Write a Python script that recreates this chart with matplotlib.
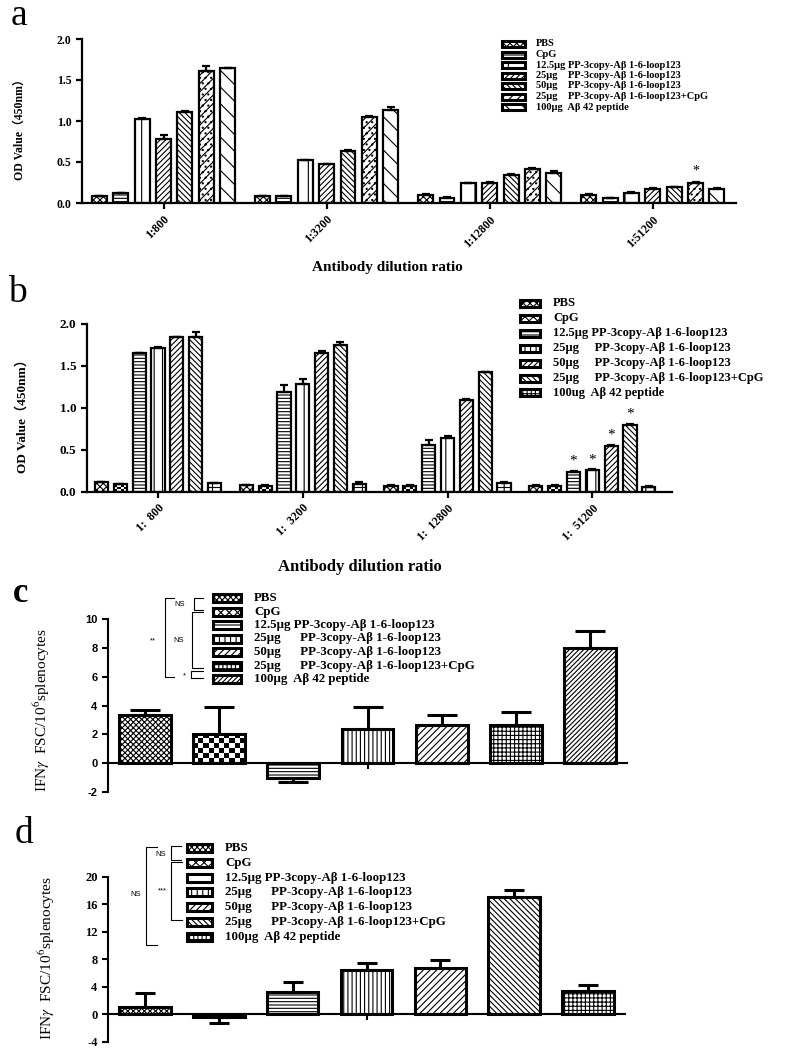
import numpy as np
import matplotlib
matplotlib.use("Agg")
import matplotlib.pyplot as plt
from matplotlib.patches import Rectangle
from matplotlib.lines import Line2D

plt.rcParams['mathtext.fontset'] = 'stix'
plt.rcParams['hatch.linewidth'] = 0.8

SERIF = ['Liberation Serif', 'DejaVu Serif']
SERIF_CJK = ['Liberation Serif', 'Noto Sans CJK SC', 'DejaVu Sans']
SANS = ['Liberation Sans', 'DejaVu Sans']

# ---------------- data ----------------
dilution_a = ["1:800", "1:3200", "1:12800", "1:51200"]
dilution_b = ["1:  800", "1:  3200", "1:  12800", "1:  51200"]

labels_a = ["PBS", "CpG", "12.5μg PP-3copy-Aβ 1-6-loop123",
            "25μg    PP-3copy-Aβ 1-6-loop123", "50μg    PP-3copy-Aβ 1-6-loop123",
            "25μg    PP-3copy-Aβ 1-6-loop123+CpG", "100μg  Aβ 42 peptide"]
labels_b = ["PBS", "CpG", "12.5μg PP-3copy-Aβ 1-6-loop123",
            "25μg     PP-3copy-Aβ 1-6-loop123", "50μg     PP-3copy-Aβ 1-6-loop123",
            "25μg     PP-3copy-Aβ 1-6-loop123+CpG", "100ug  Aβ 42 peptide"]
labels_cd = ["PBS", "CpG", "12.5μg PP-3copy-Aβ 1-6-loop123",
             "25μg      PP-3copy-Aβ 1-6-loop123", "50μg      PP-3copy-Aβ 1-6-loop123",
             "25μg      PP-3copy-Aβ 1-6-loop123+CpG", "100μg  Aβ 42 peptide"]

# panel a: OD values per series across dilutions
a_pbs = [0.08, 0.085, 0.10, 0.10]
a_cpg = [0.12, 0.085, 0.065, 0.06]
a_p125 = [1.02, 0.52, 0.24, 0.12]
a_p25 = [0.78, 0.47, 0.25, 0.17]
a_p50 = [1.11, 0.64, 0.34, 0.19]
a_p25cpg = [1.61, 1.045, 0.42, 0.24]
a_abeta = [1.65, 1.13, 0.37, 0.17]
a_err_pbs = [0.005, 0.005, 0.005, 0.005]
a_err_cpg = [0.005, 0.005, 0.005, 0.005]
a_err_p125 = [0.02, 0.01, 0.005, 0.01]
a_err_p25 = [0.045, 0.01, 0.01, 0.01]
a_err_p50 = [0.01, 0.01, 0.01, 0.01]
a_err_p25cpg = [0.06, 0.01, 0.01, 0.02]
a_err_abeta = [0.0, 0.04, 0.02, 0.01]

# panel b
b_pbs = [0.11, 0.08, 0.07, 0.07]
b_cpg = [0.09, 0.07, 0.07, 0.07]
b_p125 = [1.65, 1.19, 0.56, 0.24]
b_p25 = [1.71, 1.29, 0.64, 0.26]
b_p50 = [1.84, 1.65, 1.09, 0.55]
b_p25cpg = [1.84, 1.75, 1.43, 0.80]
b_abeta = [0.10, 0.09, 0.10, 0.06]
b_err_pbs = [0.005, 0.005, 0.005, 0.005]
b_err_cpg = [0.005, 0.005, 0.005, 0.005]
b_err_p125 = [0.01, 0.08, 0.06, 0.01]
b_err_p25 = [0.01, 0.05, 0.03, 0.01]
b_err_p50 = [0.01, 0.03, 0.01, 0.01]
b_err_p25cpg = [0.06, 0.03, 0.0, 0.01]
b_err_abeta = [0.005, 0.025, 0.01, 0.005]

# asterisks (series index, group index)
a_stars = [(5, 3)]
b_stars = [(2, 3), (3, 3), (4, 3), (5, 3)]

# panel c / d: IFN-gamma spots
c_means = [3.35, 2.03, -1.04, 2.36, 2.66, 2.66, 7.99]
c_err = [0.35, 1.86, 0.31, 1.53, 0.69, 0.88, 1.20]
d_means = [1.1, -0.44, 3.2, 6.44, 6.78, 17.1, 3.39]
d_err = [1.95, 0.87, 1.45, 0.97, 1.10, 0.97, 0.87]

# ---------------- figure ----------------
W, H = 787, 1055
fig = plt.figure(figsize=(W / 100, H / 100), dpi=100)


def px_axes(l, r, t, b):
    return fig.add_axes([l / W, 1 - b / H, (r - l) / W, (b - t) / H])


def fx(x):
    return x / W


def fy(y):
    return 1 - y / H


def style_axes(ax, lw=1.5):
    for s in ['top', 'right']:
        ax.spines[s].set_visible(False)
    ax.spines['left'].set_linewidth(lw)
    ax.spines['bottom'].set_linewidth(lw)
    ax.tick_params(axis='both', direction='out', width=lw, length=4, color='black')


def add_checker(ax, bar, cell):
    bb = bar.get_window_extent()
    ncol = max(2, int(round(bb.width / cell)))
    nrow = max(1, int(round(bb.height / cell)))
    arr = np.add.outer(np.arange(nrow), np.arange(ncol)) % 2
    x0, w = bar.get_x(), bar.get_width()
    y0, h = bar.get_y(), bar.get_height()
    im = ax.imshow(arr, cmap='gray', vmin=0, vmax=1, interpolation='nearest',
                   extent=(x0, x0 + w, min(y0, y0 + h), max(y0, y0 + h)),
                   aspect='auto', zorder=0.9)
    im.set_clip_path(bar)


def draw_legend(labels, hatches, x0, x1, ys, ph, fs, tx):
    for lab, h, y in zip(labels, hatches, ys):
        r = Rectangle((fx(x0), fy(y + ph / 2)), (x1 - x0) / W, ph / H,
                      transform=fig.transFigure, facecolor='white',
                      edgecolor='black', hatch=h, lw=2.2)
        fig.patches.append(r)
        fig.text(fx(tx), fy(y), lab, fontsize=fs, family=SERIF, weight='bold',
                 va='center', ha='left')


def bracket(x, y0, y1, x_arm, label, lx, ly, fs=5.5):
    xs = [fx(x_arm), fx(x), fx(x), fx(x_arm)]
    ys = [fy(y0), fy(y0), fy(y1), fy(y1)]
    fig.add_artist(Line2D(xs, ys, transform=fig.transFigure, color='black', lw=0.8))
    fig.text(fx(lx), fy(ly), label, fontsize=fs, family=SANS, ha='center', va='center')


def grouped(ax, series, errs, hatches, pitch, lw, capsize, checker_idx=None):
    bars_all = []
    ng = len(series[0])
    for s, (vals, err, h) in enumerate(zip(series, errs, hatches)):
        x = np.arange(ng) + (s - 3) * pitch
        fc = 'none' if s == checker_idx else 'white'
        bars = ax.bar(x, vals, width=pitch * 0.7, facecolor=fc, edgecolor='black',
                      hatch=h, lw=lw, zorder=1)
        ax.errorbar(x, vals, yerr=[np.zeros(ng), err], fmt='none', ecolor='black',
                    elinewidth=lw, capsize=capsize, capthick=lw, zorder=2)
        bars_all.append(bars)
    return bars_all


def single(ax, means, errs, hatches, lw, capsize, checker_idx=None):
    x = np.arange(len(means))
    fcs = ['none' if i == checker_idx else 'white' for i in range(len(means))]
    bars = ax.bar(x, means, width=0.7, facecolor=fcs, edgecolor='black', lw=lw, zorder=1)
    for b, h in zip(bars, hatches):
        if h:
            b.set_hatch(h)
    m = np.array(means)
    e = np.array(errs)
    lo = np.where(m < 0, e, 0)
    hi = np.where(m >= 0, e, 0)
    ax.errorbar(x, m, yerr=[lo, hi], fmt='none', ecolor='black', elinewidth=lw,
                capsize=capsize, capthick=lw, zorder=2)
    return bars


# ---------------- panel a ----------------
axa = px_axes(82, 736, 39, 203)
series_a = [a_pbs, a_cpg, a_p125, a_p25, a_p50, a_p25cpg, a_abeta]
err_a = [a_err_pbs, a_err_cpg, a_err_p125, a_err_p25, a_err_p50, a_err_p25cpg, a_err_abeta]
hatch_a = ['xxxxx', '-----', '|', '//////', '\\\\\\\\\\\\', '////...', '\\\\']
pitch_a = 0.131
bars_a = grouped(axa, series_a, err_a, hatch_a, pitch_a, 1.6, 2.8)
axa.set_xlim(-0.5, 3.51)
axa.set_ylim(0, 2.0)
style_axes(axa, 1.6)
axa.set_yticks([0, 0.5, 1.0, 1.5, 2.0])
axa.set_yticklabels(["0.0", "0.5", "1.0", "1.5", "2.0"], family=SERIF, weight='bold', fontsize=8.5)
axa.set_xticks(np.arange(4))
axa.set_xticklabels(dilution_a, rotation=45, ha='right', va='top', rotation_mode='anchor',
                    family=SERIF, weight='bold', fontsize=8.5)
for s, g in a_stars:
    axa.annotate('*', (g + (s - 3) * pitch_a, series_a[s][g] + err_a[s][g]),
                 xytext=(0, 3), textcoords='offset points', ha='center', va='bottom',
                 fontsize=10, family=SERIF)
fig.text(fx(20), fy(127), "OD Value（450nm）", rotation=90, family=SERIF_CJK, weight='bold',
         fontsize=8.5, ha='center', va='center')
fig.text(fx(387), fy(268), "Antibody dilution ratio", family=SERIF, weight='bold',
         fontsize=11, ha='center', va='center')
fig.text(fx(19), fy(16), "a", family=SERIF, fontsize=27, ha='center', va='center')
draw_legend(labels_a, hatch_a, 502, 525, [44 + i * 10.5 for i in range(7)], 6, 7.5, 536)

# ---------------- panel b ----------------
axb = px_axes(87, 672, 324, 491.7)
series_b = [b_pbs, b_cpg, b_p125, b_p25, b_p50, b_p25cpg, b_abeta]
err_b = [b_err_pbs, b_err_cpg, b_err_p125, b_err_p25, b_err_p50, b_err_p25cpg, b_err_abeta]
hatch_b = ['xxxxx', None, '-----', '||', '//////', '\\\\\\\\\\\\', '++']
pitch_b = 0.13
bars_b = grouped(axb, series_b, err_b, hatch_b, pitch_b, 1.6, 2.8, checker_idx=1)
axb.set_xlim(-0.49, 3.55)
axb.set_ylim(0, 2.0)
style_axes(axb, 1.6)
axb.set_yticks([0, 0.5, 1.0, 1.5, 2.0])
axb.set_yticklabels(["0.0", "0.5", "1.0", "1.5", "2.0"], family=SERIF, weight='bold', fontsize=9.5)
axb.set_xticks(np.arange(4))
axb.set_xticklabels(dilution_b, rotation=45, ha='right', va='top', rotation_mode='anchor',
                    family=SERIF, weight='bold', fontsize=8.5)
for bar in bars_b[1]:
    add_checker(axb, bar, 3)
for s, g in b_stars:
    axb.annotate('*', (g + (s - 3) * pitch_b, series_b[s][g] + err_b[s][g]),
                 xytext=(0, 2), textcoords='offset points', ha='center', va='bottom',
                 fontsize=11, family=SERIF)
fig.text(fx(22), fy(413), "OD Value（450nm）", rotation=90, family=SERIF_CJK, weight='bold',
         fontsize=9.5, ha='center', va='center')
fig.text(fx(360), fy(567), "Antibody dilution ratio", family=SERIF, weight='bold',
         fontsize=12, ha='center', va='center')
fig.text(fx(17), fy(293), "b", family=SERIF, fontsize=27, ha='center', va='center')
draw_legend(labels_b, ['xxxxx', 'xxxx', '-----', '|||', '//////', '\\\\\\\\\\\\', '++++'],
            520, 540, [303 + i * 15 for i in range(7)], 7, 9, 553)

# ---------------- panel c ----------------
axc = px_axes(108, 627, 619.3, 791.7)
hatch_c = ['xxxxxx', None, '-----', '||||', '/////', '++++', '///////']
bars_c = single(axc, c_means, c_err, hatch_c, 2.2, 10.5, checker_idx=1)
axc.set_xlim(-0.5, 6.5)
axc.set_ylim(-2, 10)
style_axes(axc, 1.5)
axc.spines['bottom'].set_position(('data', 0))
axc.set_yticks([-2, 0, 2, 4, 6, 8, 10])
axc.set_yticklabels(["-2", "0", "2", "4", "6", "8", "10"], family=SANS, weight='bold', fontsize=8)
axc.set_xticks([3])
axc.set_xticklabels([""])
add_checker(axc, bars_c[1], 5)
fig.text(fx(42), fy(710), "IFN$\\gamma$  FSC/10$^{6}$splenocytes", rotation=90, family=SERIF,
         fontsize=11, ha='center', va='center')
fig.text(fx(21), fy(593), "c", family=SERIF, weight='bold', fontsize=25, ha='center', va='center')
draw_legend(labels_cd, ['xxxxxx', 'xxxx', '-', '|||', '/////', '++++', '///////'],
            213, 241, [598 + i * 13.5 for i in range(7)], 8, 9.3, 254)
bracket(194, 598, 610, 203, "NS", 180, 605)
bracket(192, 612, 668, 203, "NS", 179, 641)
bracket(191, 671, 678, 203, "*", 184, 676)
bracket(165, 598, 677, 174, "**", 153, 641)

# ---------------- panel d ----------------
axd = px_axes(108, 625, 876.7, 1041.7)
hatch_d = ['xxxxxx', None, '-----', '||||', '/////', '\\\\\\\\\\\\', '++++']
bars_d = single(axd, d_means, d_err, hatch_d, 2.2, 7, checker_idx=1)
axd.set_xlim(-0.5, 6.5)
axd.set_ylim(-4, 20)
style_axes(axd, 1.5)
axd.spines['bottom'].set_position(('data', 0))
axd.set_yticks([-4, 0, 4, 8, 12, 16, 20])
axd.set_yticklabels(["-4", "0", "4", "8", "12", "16", "20"], family=SERIF, weight='bold', fontsize=9)
axd.set_xticks([3])
axd.set_xticklabels([""])
add_checker(axd, bars_d[1], 3)
fig.text(fx(47), fy(958), "IFN$\\gamma$  FSC/10$^{6}$splenocytes", rotation=90, family=SERIF,
         fontsize=11, ha='center', va='center')
fig.text(fx(24), fy(834), "d", family=SERIF, fontsize=27, ha='center', va='center')
draw_legend(labels_cd, ['xxxxxx', 'xxxx', '-', '|||', '/////', '\\\\\\\\\\\\', '++++'],
            187, 212, [848 + i * 14.8 for i in range(7)], 8, 9.3, 225)
bracket(171, 846, 860, 181, "NS", 161, 855)
bracket(171, 862, 920, 182, "***", 162, 891)
bracket(146, 847, 945, 157, "NS", 136, 895)

fig.savefig("out.png", dpi=100)
